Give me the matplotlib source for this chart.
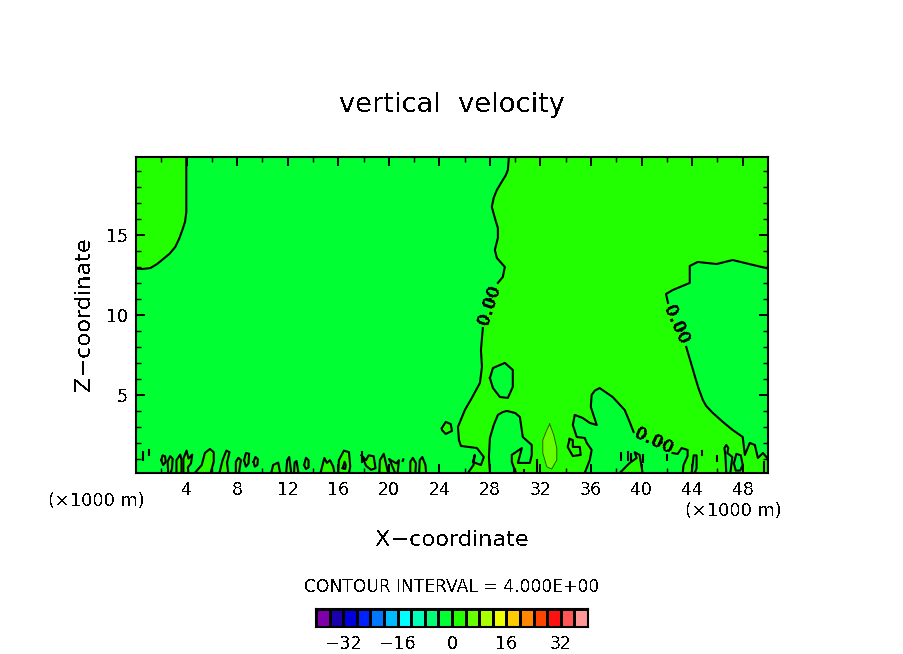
import numpy as np
import matplotlib
matplotlib.use("Agg")
import matplotlib.pyplot as plt

plt.rcParams['text.antialiased'] = False
plt.rcParams['font.family'] = 'DejaVu Sans'

# contour levels and colours of the colour bar
levels = np.arange(-40, 44, 4)
level_colors = ['#7F00AA', '#1A00AA', '#0000DD', '#0022FF', '#0077FF', '#00BBFF', '#00FFFF',
                '#00FFBB', '#00FF77', '#00FF33', '#22FF00', '#66FF00', '#AAFF00', '#EEFF00',
                '#FFCC00', '#FF8800', '#FF4400', '#FF1111', '#FF5555', '#FF9999']
bar_ticks = [-32, -16, 0, 16, 32]
x_ticks = [4, 8, 12, 16, 20, 24, 28, 32, 36, 40, 44, 48]
z_ticks = [5, 10, 15]

# zero contour as (x, z), x and z in 1000 m
corner_left = [(0, 12.88), (0.5, 12.85), (1.14, 12.91), (1.65, 13.15), (2.16, 13.48), (2.65, 13.8),
               (3.11, 14.23), (3.42, 14.75), (3.67, 15.29), (3.88, 15.8), (3.98, 16.4), (3.98, 19.85)]

front_upper = [(29.5, 19.85), (29.42, 19.04), (29.25, 18.7), (29.02, 18.41), (28.55, 17.79), (28.3, 17.3),
               (28.15, 16.73), (28.39, 16.04), (28.63, 15.41), (28.63, 14.79), (28.39, 14.04), (28.55, 13.54),
               (29.18, 12.98), (29.02, 12.35), (28.63, 11.98)]
front_lower = [(27.44, 9.16), (27.29, 7.79), (27.37, 6.73), (27.21, 5.73), (26.57, 4.79),
               (26.02, 4.04), (25.47, 2.98), (25.55, 2.16), (25.71, 1.79), (26.97, 1.66),
               (27.52, 1.1), (27.29, 0.6), (26.65, 0.79), (26.8, 1.23), (26.7, 0.6), (26.26, 0.1)]
arch = [(28.0, 0.1), (27.92, 1.1), (28.0, 2.29), (28.3, 3.1), (28.63, 3.73), (29.02, 3.91), (29.34, 3.98),
        (30.0, 3.85), (30.37, 3.6), (30.6, 2.35), (31.31, 1.85), (31.31, 1.23), (31.16, 0.73), (30.21, 0.73),
        (30.53, 1.66), (29.73, 1.23), (29.73, 0.79), (30.05, 0.1)]
hump = [(35.5, 0.1), (35.9, 0.91), (36.05, 1.54), (35.66, 1.98), (35.5, 2.29), (34.87, 2.35),
        (34.56, 3.1), (34.71, 3.73), (35.34, 3.54), (35.9, 3.23), (36.45, 3.1), (35.98, 4.23),
        (36.05, 4.98), (36.3, 5.25), (36.68, 5.41), (37.71, 4.85), (38.66, 4.04), (39.0, 3.4), (39.37, 2.66)]
hump_end = [(42.45, 1.35), (42.85, 1.29), (43.17, 1.66), (43.64, 1.54), (43.64, 1.16),
            (43.32, 0.6), (43.25, 0.1)]
right_lower = [(50, 0.1), (50, 0.91), (49.93, 1.04), (49.6, 1.35), (49.2, 1.04), (48.96, 1.85),
               (48.56, 1.98), (48.17, 1.23), (48.0, 2.35), (47.2, 2.79), (46.43, 3.29),
               (45.56, 3.91), (45.1, 4.3), (44.85, 4.66), (44.5, 5.4), (44.23, 6.1), (43.9, 7.0),
               (43.6, 7.79), (43.53, 7.98)]
right_upper = [(42.09, 10.73), (41.93, 11.29), (42.48, 11.54), (43.81, 11.98), (43.81, 13.04),
               (44.44, 13.29), (45.93, 13.16), (47.2, 13.41), (50, 12.88)]

# closed cells above zero near the ground
lobes = [
    [(2.0, 0.9), (2.1, 1.2), (2.3, 1.15), (2.35, 0.8), (2.15, 0.6)],
    [(2.55, 0.1), (2.5, 0.8), (2.7, 1.15), (2.9, 1.0), (2.85, 0.4), (2.75, 0.1)],
    [(3.2, 0.1), (3.2, 0.9), (3.5, 1.25), (3.6, 0.9), (3.6, 0.1)],
    [(3.75, 0.1), (3.75, 1.0), (4.0, 1.5), (4.15, 1.0), (4.45, 1.25), (4.35, 0.7), (4.1, 0.45), (4.15, 0.1)],
    [(4.65, 0.1), (5.2, 0.6), (5.45, 1.35), (5.85, 1.6), (6.15, 1.4), (6.15, 0.8), (5.9, 0.1)],
    [(6.6, 0.1), (6.85, 0.9), (7.15, 1.5), (7.4, 1.4), (7.2, 0.75), (7.3, 0.1)],
    [(7.9, 0.1), (7.9, 0.8), (8.1, 1.05), (8.3, 0.9), (8.2, 0.4), (8.15, 0.1)],
    [(8.55, 0.9), (8.7, 1.35), (8.95, 1.3), (8.9, 0.7), (8.7, 0.5)],
    [(9.3, 0.8), (9.45, 1.1), (9.65, 0.95), (9.6, 0.6), (9.4, 0.5)],
    [(10.7, 0.1), (10.85, 0.6), (11.25, 0.75), (11.4, 0.1)],
    [(11.88, 0.1), (11.96, 0.9), (12.12, 1.1), (12.28, 0.1)],
    [(12.5, 0.1), (12.55, 0.75), (12.7, 0.85), (12.85, 0.1)],
    [(13.3, 0.6), (13.45, 1.05), (13.65, 0.9), (13.65, 0.45), (13.45, 0.35)],
    [(14.6, 0.1), (14.9, 1.04), (15.1, 0.73), (15.35, 0.9), (15.6, 0.5), (15.7, 0.1)],
    [(16.0, 0.1), (16.05, 0.9), (16.45, 1.5), (16.85, 1.4), (16.95, 0.5), (16.85, 0.1)],
    [(17.85, 1.2), (18.2, 0.55), (18.6, 0.3), (18.95, 0.4), (18.8, 1.15), (18.4, 1.2), (18.2, 0.9)],
    [(19.25, 0.1), (19.3, 0.9), (19.6, 1.3), (19.95, 0.1)],
    [(20.05, 0.95), (20.5, 0.1), (20.7, 0.1), (20.8, 0.9), (20.6, 0.7)],
    [(21.7, 0.1), (21.7, 0.8), (21.9, 1.05), (22.15, 0.7), (22.1, 0.1)],
    [(22.4, 0.1), (22.45, 0.9), (22.65, 1.1), (22.9, 0.6), (22.95, 0.1)],
    [(24.2, 2.91), (24.5, 3.29), (24.9, 3.16), (25.0, 2.73), (24.5, 2.54), (24.2, 2.79)],
    [(34.31, 2.23), (34.56, 2.16), (34.56, 1.73), (35.11, 1.73), (35.18, 1.23), (34.56, 1.16), (34.15, 1.73)],
    [(38.27, 0.1), (39.06, 0.73), (39.61, 1.04), (39.45, 1.4), (39.84, 1.23), (40.08, 0.1)],
]

# closed cells below zero inside the positive area
holes = [
    [(28.0, 6.04), (28.24, 6.66), (29.18, 6.98), (29.81, 6.54), (29.81, 5.48), (29.42, 4.79), (28.79, 4.85), (28.24, 5.41)],
    [(16.35, 0.4), (16.5, 0.8), (16.6, 0.6), (16.55, 0.35)],
    [(43.96, 0.1), (44.12, 1.2), (44.35, 1.2), (44.35, 0.4), (44.2, 0.1)],
    [(47.3, 0.7), (47.5, 1.3), (47.85, 1.2), (48.0, 0.6), (47.8, 0.25), (47.45, 0.25)],
    [(46.7, 0.1), (46.63, 1.2), (46.55, 1.66), (46.7, 1.85), (46.86, 1.66), (46.78, 1.35), (47.18, 1.1), (47.02, 0.1)],
]

# tiny pieces of the zero contour
dashes = [
    [(0.58, 0.9), (0.58, 1.4)], [(1.06, 1.2), (1.06, 1.55)], [(17.9, 0.8), (17.9, 1.4)],
    [(21.1, 0.85), (21.15, 0.95)], [(38.35, 0.9), (38.35, 1.35)], [(38.9, 0.9), (38.9, 1.4)],
    [(39.15, 0.9), (39.15, 1.3)], [(40.15, 0.8), (40.15, 1.2)], [(41.97, 0.9), (41.97, 1.2)],
    [(44.8, 1.2), (44.8, 1.45)], [(45.93, 0.85), (45.93, 1.15)], [(49.72, 0.1), (49.72, 0.8)],
    [(31.75, 0.1), (31.75, 0.9)], [(29.9, 0.1), (29.9, 0.4)], [(30.7, 0.1), (30.7, 0.3)],
]

# +4 contour, the only one above the zero band
core = [(32.73, 3.16), (33.05, 2.48), (33.29, 1.66), (33.29, 0.91), (32.89, 0.35), (32.5, 0.48),
        (32.18, 1.35), (32.18, 2.16), (32.5, 2.79)]

# contour labels: x, z, rotation
label_x = [28.0, 42.76, 40.95]
label_z = [10.6, 9.35, 2.1]
label_rot = [72, -66, -25]

band_neg = level_colors[9]
band_pos = level_colors[10]
band_high = level_colors[11]
lw_zero = 1.5


def xz(points):
    pts = np.array(points)
    return pts[:, 0], pts[:, 1]


fig = plt.figure(figsize=(9.04, 6.54), dpi=100)
ax = fig.add_axes([136 / 904, 1 - 473 / 654, (768 - 136) / 904, (473 - 157) / 654])
ax.set_facecolor(band_neg)

# big positive area, closed along the ground and the top edge
outline = (front_upper + front_lower + arch + hump + hump_end + right_lower + right_upper
           + [(50, 19.85)])
ax.fill(*xz(outline), color=band_pos, lw=0, antialiased=False, zorder=1)
ax.fill(*xz(corner_left + [(0, 19.85)]), color=band_pos, lw=0, antialiased=False, zorder=1)

for cell in lobes:
    ax.fill(*xz(cell), color=band_pos, lw=0, antialiased=False, zorder=2)
for cell in holes:
    ax.fill(*xz(cell), color=band_neg, lw=0, antialiased=False, zorder=2)
ax.fill(*xz(core), color=band_high, lw=0, antialiased=False, zorder=2)
ax.plot(*xz(core + core[:1]), color='#2a5a00', lw=0.7, zorder=3)

for seg in [corner_left, front_upper, front_lower, arch, hump, hump_end, right_lower, right_upper]:
    ax.plot(*xz(seg), color='black', lw=lw_zero, zorder=4)
for cell in lobes + holes:
    ax.plot(*xz(cell + cell[:1]), color='black', lw=lw_zero, zorder=4)
for seg in dashes:
    ax.plot(*xz(seg), color='black', lw=lw_zero, zorder=4)

for x, z, rot in zip(label_x, label_z, label_rot):
    ax.text(x, z, '0.00', fontsize=12, fontweight='bold', rotation=rot, rotation_mode='anchor',
            ha='center', va='center', zorder=5)

ax.set_xlim(0, 50)
ax.set_ylim(0.1, 19.85)
ax.set_xticks(x_ticks)
ax.set_xticks(np.arange(2, 50, 4), minor=True)
ax.set_yticks(z_ticks)
ax.set_yticks([z for z in range(1, 20) if z % 5], minor=True)
ax.tick_params(which='major', direction='in', length=6.5, width=1.4, top=True, right=True,
               labelsize=12.5, pad=6)
ax.tick_params(which='minor', direction='in', length=3.5, width=1, top=True, right=True)
for spine in ax.spines.values():
    spine.set_linewidth(1.5)

fig.text(452 / 904, 1 - 105 / 654, 'vertical  velocity', fontsize=19.6, ha='center', va='center')
fig.text(452 / 904, 1 - 540 / 654, 'X\u2212coordinate', fontsize=16.1, ha='center', va='center')
fig.text(84 / 904, 1 - 314 / 654, 'Z\u2212coordinate', fontsize=16.1, rotation=90, ha='center', va='center')
fig.text(96 / 904, 1 - 501 / 654, '(\u00d71000 m)', fontsize=12.8, ha='center', va='center')
fig.text(733 / 904, 1 - 511 / 654, '(\u00d71000 m)', fontsize=12.8, ha='center', va='center')
fig.text(452 / 904, 1 - 587 / 654, 'CONTOUR INTERVAL = 4.000E+00', fontsize=12.3, ha='center', va='center')

# colour bar
cax = fig.add_axes([316 / 904, 1 - 627 / 654, (588 - 316) / 904, 18 / 654])
cax.pcolormesh(levels, [0, 1], np.array([levels[:-1] + 2]), cmap=matplotlib.colors.ListedColormap(level_colors),
               vmin=-40, vmax=40, edgecolors='black', linewidth=1.0, antialiased=False)
cax.set_xlim(-40, 40)
cax.set_ylim(0, 1)
cax.set_yticks([])
cax.set_xticks(bar_ticks)
cax.set_xticklabels(['\u221232', '\u221216', '0', '16', '32'])
cax.tick_params(axis='x', length=0, labelsize=12.5, pad=6)
for spine in cax.spines.values():
    spine.set_linewidth(1.5)

fig.savefig('out.png', dpi=100)
